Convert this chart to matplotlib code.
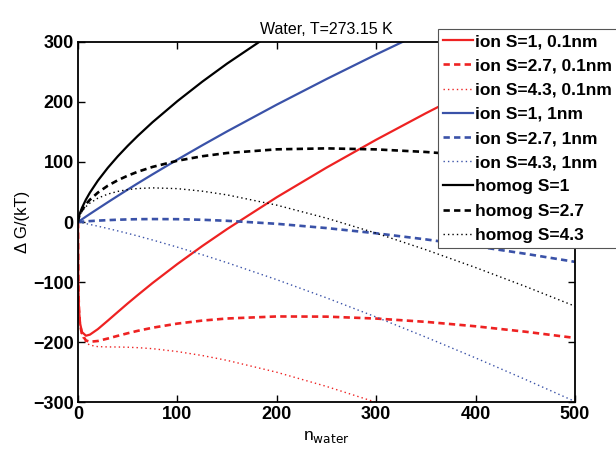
import matplotlib
matplotlib.use("Agg")
import matplotlib.pyplot as plt

plt.rcParams["font.family"] = ["Liberation Sans", "DejaVu Sans"]

# cluster size (number of water molecules)
n_water = [0, 0.25, 0.5, 1, 2, 4, 8, 12, 20, 30, 40, 50, 60, 75, 100, 125,
           150, 200, 250, 300, 350, 400, 450, 500]

# ion-induced, 0.1 nm ion
ion_s1_01 = [0, -85.2, -116.0, -144.7, -167.9, -183.4, -189.5, -187.7, -178.5,
             -164.4, -150.0, -135.7, -121.9, -101.7, -70.0, -40.1, -11.8, 41.3,
             90.6, 137.1, 181.3, 223.5, 264.2, 303.4]
ion_s27_01 = [0, -85.4, -116.5, -145.7, -169.9, -187.4, -197.4, -199.6, -198.3,
              -194.2, -189.7, -185.4, -181.4, -176.2, -169.3, -164.3, -160.8,
              -157.4, -157.7, -160.9, -166.4, -173.8, -182.8, -193.2]
ion_s43_01 = [0, -85.6, -116.7, -146.2, -170.8, -189.3, -201.1, -205.2, -207.7,
              -208.2, -208.3, -208.7, -209.4, -211.1, -215.9, -222.5, -230.6,
              -250.4, -274.0, -300.5, -329.2, -359.9, -392.2, -425.9]

# ion-induced, 1 nm ion
ion_s1_1 = [0, 0.3, 0.6, 1.1, 2.3, 4.5, 9.0, 13.4, 22.1, 32.9, 43.5, 54.0, 64.3,
            79.4, 104.0, 127.8, 151.0, 195.6, 238.2, 279.2, 318.7, 356.9, 394.1,
            430.2]
ion_s27_1 = [0, 0.03, 0.07, 0.13, 0.27, 0.52, 1.0, 1.5, 2.3, 3.1, 3.8, 4.3, 4.7,
             4.9, 4.7, 3.7, 2.0, -3.0, -10.1, -18.8, -29.0, -40.4, -52.9, -66.4]
ion_s43_1 = [0, -0.08, -0.17, -0.3, -0.7, -1.3, -2.7, -4.1, -7.0, -10.8, -14.8,
             -18.9, -23.2, -30.0, -41.9, -54.5, -67.8, -96.1, -126.4, -158.4,
             -191.9, -226.5, -262.3, -299.1]

# homogeneous nucleation
homog_s1 = [0, 3.7, 5.9, 9.4, 14.8, 23.6, 37.4, 49.0, 68.9, 90.3, 109.4, 126.9,
            143.3, 166.3, 201.4, 233.8, 264.0, 319.8, 371.1, 419.0, 464.4, 507.6,
            549.1, 589.0]
homog_s27 = [0, 3.5, 5.4, 8.4, 12.9, 19.6, 29.5, 37.1, 49.0, 60.5, 69.6, 77.2,
             83.7, 91.8, 102.1, 109.6, 115.0, 121.1, 122.7, 121.0, 116.7, 110.3,
             102.1, 92.4]
homog_s43 = [0, 3.3, 5.2, 7.9, 11.9, 17.7, 25.7, 31.5, 39.7, 46.5, 51.0, 54.0,
             55.8, 56.9, 55.6, 51.4, 45.2, 28.1, 6.4, -18.6, -46.2, -75.9, -107.3,
             -140.3]

labels = ["ion S=1, 0.1nm", "ion S=2.7, 0.1nm", "ion S=4.3, 0.1nm",
          "ion S=1, 1nm", "ion S=2.7, 1nm", "ion S=4.3, 1nm",
          "homog S=1", "homog S=2.7", "homog S=4.3"]

red = "#ee2222"
blue = "#3a52a8"
black = "#000000"
dash = (0, (2.4, 1.6))
dot = (0, (1.0, 2.2))

fig = plt.figure(figsize=(6.16, 4.51), dpi=100)
ax = fig.add_axes([0.1266, 0.1086, 0.8068, 0.7983])

series = [
    (ion_s1_01, red, "-", 1.6),
    (ion_s27_01, red, dash, 1.9),
    (ion_s43_01, red, dot, 1.0),
    (ion_s1_1, blue, "-", 1.6),
    (ion_s27_1, blue, dash, 1.9),
    (ion_s43_1, blue, dot, 1.0),
    (homog_s1, black, "-", 1.6),
    (homog_s27, black, dash, 1.9),
    (homog_s43, black, dot, 1.0),
]
for (vals, col, ls, lw), lab in zip(series, labels):
    ax.plot(n_water, vals, color=col, linestyle=ls, linewidth=lw, label=lab)

ax.set_xlim(0, 500)
ax.set_ylim(-300, 300)
ax.set_xticks(range(0, 501, 100))
ax.set_yticks(range(-300, 301, 100))
ax.tick_params(direction="in", top=True, right=True, length=5, width=1,
               labelsize=13, pad=3)
for lbl in ax.get_xticklabels() + ax.get_yticklabels():
    lbl.set_fontweight("bold")
for sp in ax.spines.values():
    sp.set_linewidth(1.3)

ax.set_title("Water, T=273.15 K", fontsize=11.5, pad=6)
ax.set_ylabel("Δ G/(kT)", fontsize=12, labelpad=2)
ax.set_xlabel("n$_{\\rm water}$", fontsize=12.5, labelpad=4)

leg = fig.legend(loc="upper left", bbox_to_anchor=(438 / 616, 1 - 29 / 451),
                 bbox_transform=fig.transFigure, borderaxespad=0,
                 prop={"weight": "bold", "size": 12.5}, handlelength=1.7,
                 handletextpad=0.15, borderpad=0.3, labelspacing=0.52,
                 fancybox=False, framealpha=1, edgecolor="#555555")
leg.get_frame().set_linewidth(0.8)

fig.savefig("out.png", dpi=100)
